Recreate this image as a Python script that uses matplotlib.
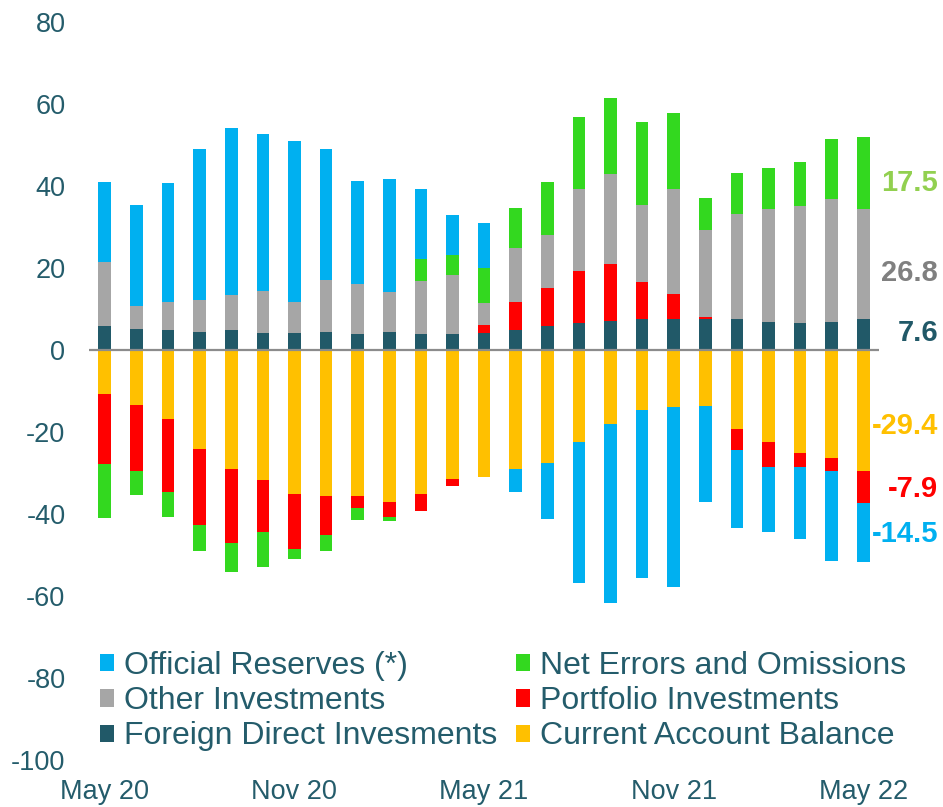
import matplotlib.pyplot as plt
import numpy as np

plt.rcParams['font.family'] = ['Liberation Sans', 'DejaVu Sans']
plt.rcParams['axes.unicode_minus'] = False

months = ['May 20', 'Jun 20', 'Jul 20', 'Aug 20', 'Sep 20', 'Oct 20', 'Nov 20', 'Dec 20',
          'Jan 21', 'Feb 21', 'Mar 21', 'Apr 21', 'May 21', 'Jun 21', 'Jul 21', 'Aug 21',
          'Sep 21', 'Oct 21', 'Nov 21', 'Dec 21', 'Jan 22', 'Feb 22', 'Mar 22', 'Apr 22', 'May 22']

current = [-10.8, -13.5, -16.9, -24.1, -29.0, -31.8, -35.1, -35.6, -35.6, -37.1, -35.0, -31.5,
           -30.9, -29.1, -27.6, -22.4, -18.0, -14.7, -13.9, -13.7, -19.2, -22.4, -25.0, -26.4, -29.4]
fdi = [5.9, 5.1, 4.9, 4.5, 4.9, 4.2, 4.2, 4.5, 4.0, 4.4, 4.0, 4.0,
       4.1, 5.0, 5.9, 6.7, 7.2, 7.6, 7.6, 7.5, 7.6, 6.8, 6.7, 6.9, 7.6]
portfolio = [-17.0, -16.0, -17.7, -18.6, -18.1, -12.6, -13.4, -9.5, -2.9, -3.6, -4.3, -1.6,
             2.0, 6.6, 9.3, 12.6, 13.8, 9.1, 6.1, 0.6, -5.2, -6.1, -3.5, -3.2, -7.9]
other = [15.6, 5.6, 6.7, 7.6, 8.6, 10.2, 7.6, 12.7, 12.0, 9.7, 12.9, 14.2,
         5.3, 13.4, 12.8, 20.0, 21.9, 18.7, 25.6, 21.2, 25.6, 27.5, 28.5, 29.9, 26.8]
errors = [-13.2, -5.9, -6.1, -6.4, -7.0, -8.4, -2.5, -4.0, -2.9, -1.0, 5.3, 5.1,
          8.5, 9.6, 13.0, 17.5, 18.6, 20.2, 18.4, 7.8, 10.0, 10.0, 10.7, 14.6, 17.5]
reserves = [19.4, 24.6, 29.1, 36.9, 40.6, 38.3, 39.1, 31.8, 25.3, 27.6, 17.0, 9.6,
            11.0, -5.5, -13.5, -34.4, -43.6, -41.0, -43.9, -23.4, -18.9, -15.8, -17.5, -21.8, -14.5]

names = ['Current Account Balance', 'Foreign Direct Invesments', 'Portfolio Investments',
         'Other Investments', 'Net Errors and Omissions', 'Official Reserves (*)']
series = [current, fdi, portfolio, other, errors, reserves]
colors = ['#FFC000', '#215968', '#FF0000', '#A6A6A6', '#33D81F', '#00B0F0']
label_colors = ['#FFC000', '#215968', '#FF0000', '#808080', '#92D050', '#00B0F0']
label_shift = [-3.8, 0.3, -0.5, -2.2, -2.5, -0.2]
txt = '#245C6B'

fig = plt.figure(figsize=(9.43, 8.07), dpi=100)
ax = fig.add_axes([0.0944, 0.0582, 0.8378, 0.9145])

x = np.arange(len(months))
pos = np.zeros(len(months))
neg = np.zeros(len(months))
bars = {}
centers = []
for name, vals, c in zip(names, series, colors):
    v = np.array(vals)
    bottom = np.where(v >= 0, pos, neg)
    bars[name] = ax.bar(x, v, 0.4, bottom=bottom, color=c, label=name, zorder=2)
    centers.append(bottom[-1] + v[-1] / 2)
    pos = pos + np.where(v >= 0, v, 0)
    neg = neg + np.where(v < 0, v, 0)

ax.axhline(0, color='#8C8C8C', lw=1.6, zorder=3)

# labels for the latest month, right of the plot
for vals, c, cy, dy in zip(series, label_colors, centers, label_shift):
    ax.annotate(f'{vals[-1]:.1f}', xy=(1.0, cy + dy), xycoords=('axes fraction', 'data'),
                xytext=(59, 0), textcoords='offset pixels', ha='right', va='center',
                fontsize=21, fontweight='bold', color=c, annotation_clip=False)

ax.set_xlim(-0.5, len(months) - 0.5)
ax.set_ylim(-100, 80)
ax.set_yticks(np.arange(-100, 81, 20))
ax.set_xticks(x[::6])
ax.set_xticklabels([months[i] for i in x[::6]])
ax.tick_params(axis='both', length=0, labelsize=19.5, colors=txt)
ax.tick_params(axis='x', pad=14)
ax.tick_params(axis='y', pad=17)
for s in ax.spines.values():
    s.set_visible(False)

order = ['Official Reserves (*)', 'Other Investments', 'Foreign Direct Invesments',
         'Net Errors and Omissions', 'Portfolio Investments', 'Current Account Balance']
leg = ax.legend([bars[n] for n in order], order, ncol=2, loc='upper left',
                bbox_to_anchor=(0.106, 0.193), bbox_transform=fig.transFigure,
                frameon=False, fontsize=23, handlelength=0.45, handleheight=0.45,
                handletextpad=0.3, columnspacing=0.58, labelspacing=0.16, borderaxespad=0,
                borderpad=0)
for t in leg.get_texts():
    t.set_color(txt)

fig.savefig('out.png', dpi=100)
